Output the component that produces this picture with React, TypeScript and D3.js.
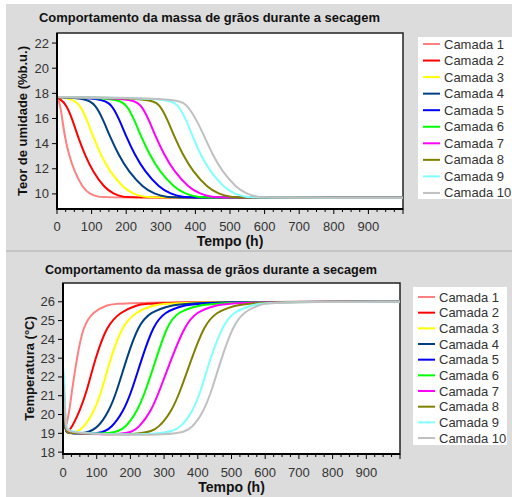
import React from "react";
import * as d3 from "d3";

// legend names and colours
const layerNames = ["Camada 1", "Camada 2", "Camada 3", "Camada 4", "Camada 5", "Camada 6", "Camada 7", "Camada 8", "Camada 9", "Camada 10"];
const layerColors = ["#ff8080", "#ff0000", "#ffff00", "#004080", "#0000ff", "#00ff00", "#ff00ff", "#808000", "#80ffff", "#c0c0c0"];

const chartTitle = "Comportamento da massa de grãos durante a secagem";
const xTicks = [0, 100, 200, 300, 400, 500, 600, 700, 800, 900];
const moistureTicks = [10, 12, 14, 16, 18, 20, 22];
const tempTicks = [18, 19, 20, 21, 22, 23, 24, 25, 26];

// moisture content (% b.u.) vs time (h), one array per layer: [t, value]
const moisture1 = [[0, 17.7], [4, 17.45], [9, 17.1], [16, 15.8], [23, 14.5], [34, 13.15], [50, 11.8], [74, 10.5], [94, 10.0], [118, 9.75], [150, 9.7], [1000, 9.7]];
const moisture2 = [[0, 17.7], [6, 17.6], [27, 17.15], [46, 15.8], [61, 14.5], [80, 13.15], [103, 11.8], [137, 10.5], [163, 10.0], [191, 9.75], [220, 9.7], [1000, 9.7]];
const moisture3 = [[0, 17.7], [39, 17.6], [66, 17.15], [88, 15.8], [105, 14.5], [126, 13.15], [152, 11.8], [191, 10.5], [220, 10.0], [251, 9.75], [283, 9.7], [1000, 9.7]];
const moisture4 = [[0, 17.7], [81, 17.6], [111, 17.15], [135, 15.8], [154, 14.5], [177, 13.15], [206, 11.8], [249, 10.5], [281, 10.0], [316, 9.75], [351, 9.7], [1000, 9.7]];
const moisture5 = [[0, 17.7], [128, 17.6], [158, 17.15], [182, 15.8], [201, 14.5], [224, 13.15], [253, 11.8], [296, 10.5], [328, 10.0], [363, 9.75], [398, 9.7], [1000, 9.7]];
const moisture6 = [[0, 17.7], [171, 17.6], [201, 17.15], [225, 15.8], [244, 14.5], [267, 13.15], [296, 11.8], [339, 10.5], [371, 10.0], [406, 9.75], [441, 9.7], [1000, 9.7]];
const moisture7 = [[0, 17.7], [213, 17.6], [243, 17.15], [267, 15.8], [286, 14.5], [309, 13.15], [338, 11.8], [381, 10.5], [413, 10.0], [448, 9.75], [483, 9.7], [1000, 9.7]];
const moisture8 = [[0, 17.7], [267, 17.6], [297, 17.15], [321, 15.8], [340, 14.5], [363, 13.15], [392, 11.8], [435, 10.5], [467, 10.0], [502, 9.75], [537, 9.7], [1000, 9.7]];
const moisture9 = [[0, 17.7], [318, 17.6], [350, 17.15], [375, 15.8], [393, 14.5], [414, 13.15], [442, 11.8], [483, 10.5], [513, 10.0], [546, 9.75], [580, 9.7], [1000, 9.7]];
const moisture10 = [[0, 17.7], [345, 17.6], [375, 17.15], [405, 15.8], [427, 14.5], [449, 13.15], [477, 11.8], [518, 10.5], [548, 10.0], [580, 9.75], [612, 9.7], [1000, 9.7]];

// temperature (°C) vs time (h)
const temp1 = [[0, 19.6], [4, 19.35], [8, 19.25], [12, 19.6], [19, 20.2], [26, 21.2], [41, 23.0], [60, 24.75], [90, 25.47], [125, 25.8], [170, 26.0], [1000, 26.0]];
const temp2 = [[0, 20.0], [4, 19.7], [8, 19.15], [15, 19.1], [26, 19.3], [50, 20.2], [70, 21.2], [96, 23.0], [130, 24.75], [172, 25.47], [215, 25.8], [259, 26.0], [1000, 26.0]];
const temp3 = [[0, 20.2], [4, 19.8], [8, 19.1], [12, 19.0], [35, 19.0], [62, 19.3], [93, 20.2], [114, 21.2], [141, 23.0], [176, 24.75], [217, 25.47], [265, 25.8], [318, 26.0], [1000, 26.0]];
const temp4 = [[0, 20.4], [4, 20.0], [8, 19.1], [12, 19.0], [72, 19.0], [104, 19.3], [137, 20.2], [159, 21.2], [189, 23.0], [223, 24.75], [260, 25.47], [318, 25.8], [380, 26.0], [1000, 26.0]];
const temp5 = [[0, 20.6], [4, 20.2], [8, 19.1], [12, 19.0], [112, 18.95], [145, 19.3], [180, 20.2], [203, 21.2], [234, 23.0], [268, 24.75], [302, 25.47], [355, 25.8], [415, 26.0], [1000, 26.0]];
const temp6 = [[0, 20.8], [4, 20.4], [8, 19.1], [12, 19.0], [152, 18.95], [186, 19.3], [221, 20.2], [244, 21.2], [277, 23.0], [309, 24.75], [340, 25.47], [400, 25.8], [467, 26.0], [1000, 26.0]];
const temp7 = [[0, 21.0], [4, 20.6], [8, 19.1], [12, 19.0], [192, 18.9], [226, 19.3], [262, 20.2], [285, 21.2], [322, 23.0], [362, 24.75], [396, 25.47], [450, 25.8], [507, 26.0], [1000, 26.0]];
const temp8 = [[0, 21.2], [4, 20.8], [8, 19.1], [12, 19.0], [245, 18.9], [285, 19.3], [323, 20.2], [347, 21.2], [382, 23.0], [419, 24.75], [455, 25.47], [510, 25.8], [560, 26.0], [1000, 26.0]];
const temp9 = [[0, 22.5], [4, 22.0], [8, 19.3], [12, 19.0], [305, 18.9], [350, 19.3], [386, 20.2], [408, 21.2], [437, 23.0], [474, 24.75], [506, 25.47], [558, 25.8], [595, 26.0], [1000, 26.0]];
const temp10 = [[0, 21.8], [4, 21.3], [8, 19.2], [12, 19.0], [345, 18.85], [385, 19.3], [418, 20.2], [440, 21.2], [470, 23.0], [505, 24.75], [537, 25.47], [578, 25.8], [610, 26.0], [1000, 26.0]];

const moistureSeries = [moisture1, moisture2, moisture3, moisture4, moisture5, moisture6, moisture7, moisture8, moisture9, moisture10];
const tempSeries = [temp1, temp2, temp3, temp4, temp5, temp6, temp7, temp8, temp9, temp10];

const FONT = "'Liberation Sans', Arial, sans-serif";
const PANEL = "#dcdcdc";

type PanelProps = {
    top: number;
    plot: { left: number; right: number; top: number; bottom: number };
    yDomain: [number, number];
    yTicks: number[];
    series: number[][][];
    yLabel: string;
    yLabelX: number;
    titleX: number;
    titleY: number;
    titleW: number;
    xLabelY: number;
    xTickY: number;
    legend: { x: number; y: number; w: number; h: number; first: number; step: number; lineX: number; textX: number };
};

const Panel = (p: PanelProps) => {
    const x = d3.scaleLinear().domain([0, 1000]).range([p.plot.left, p.plot.right]);
    const y = d3.scaleLinear().domain(p.yDomain).range([p.plot.bottom, p.plot.top]);
    const line = d3.line<number[]>()
        .x(d => x(d[0]))
        .y(d => y(d[1]))
        .curve(d3.curveBasis);
    const minor = d3.range(0, 1001, 25);
    const clipId = `clip-${p.top}`;

    return (
        <g>
            <defs>
                <clipPath id={clipId}>
                    <rect x={p.plot.left} y={p.plot.top} width={p.plot.right - p.plot.left} height={p.plot.bottom - p.plot.top} />
                </clipPath>
            </defs>
            <text x={p.titleX} y={p.titleY} fontFamily={FONT} fontWeight="bold" fontSize={13}
                textLength={p.titleW} lengthAdjust="spacingAndGlyphs" fill="#111">{chartTitle}</text>

            <rect x={p.plot.left} y={p.plot.top} width={p.plot.right - p.plot.left} height={p.plot.bottom - p.plot.top}
                fill="#fff" stroke="#222" strokeWidth={1.5} />

            <g clipPath={`url(#${clipId})`}>
                {p.series.map((s, i) => (
                    <path key={i} d={line(s) || ""} fill="none" stroke={layerColors[i]} strokeWidth={2} />
                ))}
            </g>

            {/* axes */}
            <line x1={p.plot.left} x2={p.plot.left} y1={p.plot.top} y2={p.plot.bottom + 1} stroke="#000" strokeWidth={2} />
            <line x1={p.plot.left - 1} x2={p.plot.right} y1={p.plot.bottom} y2={p.plot.bottom} stroke="#000" strokeWidth={2} />

            {minor.map(t => (
                <line key={"m" + t} x1={x(t)} x2={x(t)} y1={p.plot.bottom} y2={p.plot.bottom + (t % 100 === 0 ? 5 : 3)} stroke="#000" strokeWidth={1} />
            ))}
            {xTicks.map(t => (
                <text key={"x" + t} x={x(t)} y={p.xTickY} textAnchor="middle" fontFamily={FONT} fontSize={13} fill="#333">{t}</text>
            ))}
            {p.yTicks.map(v => (
                <g key={"y" + v}>
                    <line x1={p.plot.left - 5} x2={p.plot.left} y1={y(v)} y2={y(v)} stroke="#000" strokeWidth={1} />
                    <text x={p.plot.left - 8} y={y(v) + 4.5} textAnchor="end" fontFamily={FONT} fontSize={13} fill="#333">{v}</text>
                </g>
            ))}

            <text x={(p.plot.left + p.plot.right) / 2} y={p.xLabelY} textAnchor="middle" fontFamily={FONT} fontWeight="bold" fontSize={14} fill="#111">Tempo (h)</text>
            <text transform={`translate(${p.yLabelX},${(p.plot.top + p.plot.bottom) / 2}) rotate(-90)`} textAnchor="middle"
                fontFamily={FONT} fontWeight="bold" fontSize={13} fill="#111">{p.yLabel}</text>

            {/* legend */}
            <rect x={p.legend.x} y={p.legend.y} width={p.legend.w} height={p.legend.h} fill="#fff" />
            {layerNames.map((name, i) => {
                const ly = p.legend.first + i * p.legend.step;
                return (
                    <g key={name}>
                        <line x1={p.legend.lineX} x2={p.legend.lineX + 17} y1={ly} y2={ly} stroke={layerColors[i]} strokeWidth={2} />
                        <text x={p.legend.textX} y={ly + 4.5} fontFamily={FONT} fontSize={13} fill="#333">{name}</text>
                    </g>
                );
            })}
        </g>
    );
};

export default function App() {
    return (
        <svg width={512} height={497} style={{ position: "absolute", left: 0, top: 0, background: "#fff" }}>
            <rect x={6} y={4} width={506} height={246} fill={PANEL} />
            <rect x={6} y={250} width={506} height={2} fill="#c4c4c4" />
            <rect x={6} y={252} width={506} height={245} fill={PANEL} />

            <Panel
                top={0}
                plot={{ left: 57, right: 403, top: 33, bottom: 209 }}
                yDomain={[8.8, 22.8]}
                yTicks={moistureTicks}
                series={moistureSeries}
                yLabel="Teor de umidade (%b.u.)"
                yLabelX={27}
                titleX={39}
                titleY={22}
                titleW={341}
                xLabelY={246}
                xTickY={231}
                legend={{ x: 418, y: 37, w: 94, h: 162, first: 44, step: 16.55, lineX: 423, textX: 444 }}
            />
            <Panel
                top={1}
                plot={{ left: 63, right: 400, top: 283, bottom: 454 }}
                yDomain={[17.9, 27.0]}
                yTicks={tempTicks}
                series={tempSeries}
                yLabel="Temperatura (°C)"
                yLabelX={34}
                titleX={45}
                titleY={274}
                titleW={332}
                xLabelY={492}
                xTickY={477}
                legend={{ x: 413, y: 287, w: 94, h: 158, first: 297, step: 15.67, lineX: 418, textX: 439 }}
            />
        </svg>
    );
}
